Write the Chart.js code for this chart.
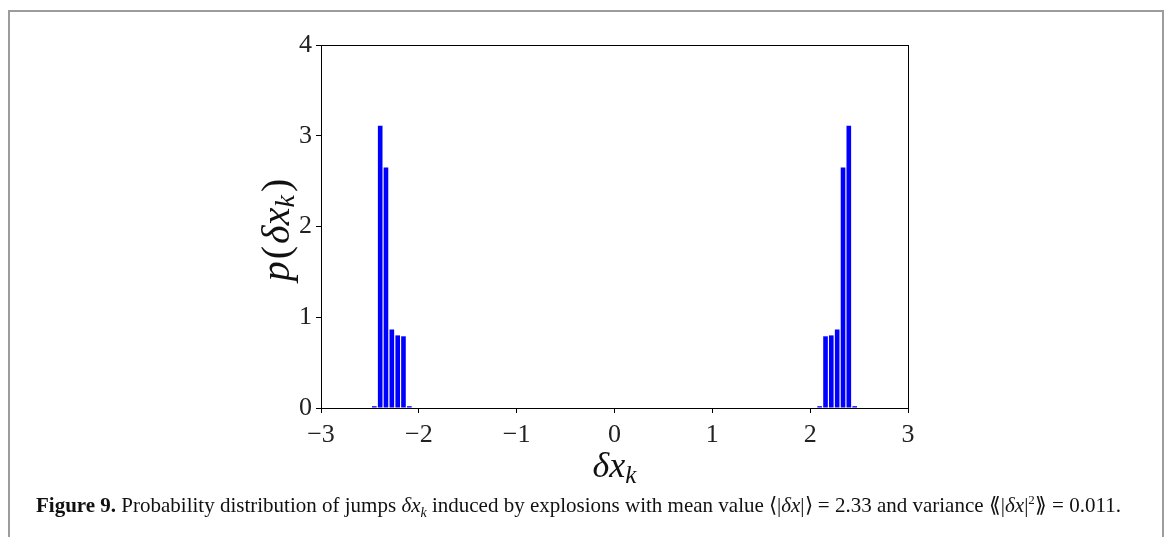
<!DOCTYPE html>
<html>
<head>
<meta charset="utf-8">
<script src="https://cdn.jsdelivr.net/npm/chart.js@4.4.1/dist/chart.umd.min.js"></script>
<style>
  body { margin: 0; background: #fff; width: 1168px; height: 537px; overflow: hidden; position: relative; }
  #frame { position: absolute; left: 8px; top: 10px; width: 1152px; height: 600px; border: 2px solid #9c9c9c; box-sizing: content-box; }
  #chart { position: absolute; left: 0; top: 0; }
  #caption { position: absolute; left: 36px; top: 492px; font-family: "Liberation Serif", serif; font-size: 21px; color: #111; white-space: nowrap; }
  #caption b { font-weight: bold; }
  #caption i { font-style: italic; }
</style>
</head>
<body>
<div id="frame"></div>
<canvas id="chart" width="1168" height="537"></canvas>
<div id="caption"><b>Figure 9.</b> Probability distribution of jumps <i>δx</i><sub style="font-size:14px"><i>k</i></sub> induced by explosions with mean value ⟨|<i>δx</i>|⟩ = 2.33 and variance ⟪|<i>δx</i>|<sup style="font-size:13px">2</sup>⟫ = 0.011.</div>
<script>
// bin centres and heights of the histogram
const binsLeft = [-2.455, -2.395, -2.336, -2.276, -2.216, -2.157, -2.097];
const valuesLeft = [0.02, 3.11, 2.65, 0.865, 0.80, 0.79, 0.02];
const binsRight = [2.097, 2.157, 2.216, 2.276, 2.336, 2.395, 2.455];
const valuesRight = [0.02, 0.79, 0.80, 0.865, 2.65, 3.11, 0.02];
const xTicks = [-3, -2, -1, 0, 1, 2, 3];
const yTicks = [0, 1, 2, 3, 4];

const points = binsLeft.map((x, i) => ({ x: x, y: valuesLeft[i] }))
  .concat(binsRight.map((x, i) => ({ x: x, y: valuesRight[i] })));

const tickFont = { family: "Liberation Serif", size: 26 };

function drawParts(ctx, parts, cx, cy, size) {
  // measure
  let total = 0;
  parts.forEach(p => {
    ctx.font = (p.it ? "italic " : "") + (p.sub ? size * 0.7 : size) + "px 'Liberation Serif'";
    p.w = ctx.measureText(p.t).width + (p.gap || 0);
    total += p.w;
  });
  let x = cx - total / 2;
  parts.forEach(p => {
    ctx.font = (p.it ? "italic " : "") + (p.sub ? size * 0.7 : size) + "px 'Liberation Serif'";
    ctx.fillText(p.t, x, cy + (p.sub ? size * 0.22 : 0));
    x += p.w;
  });
}

const framePlugin = {
  id: "frame",
  afterDraw(chart) {
    const { ctx, chartArea: a } = chart;
    ctx.save();
    ctx.strokeStyle = "#000";
    ctx.lineWidth = 1;
    ctx.strokeRect(a.left + 0.5, a.top + 0.5, a.right - a.left, a.bottom - a.top);
    ctx.fillStyle = "#111";
    ctx.textBaseline = "middle";
    ctx.textAlign = "left";
    drawParts(ctx, [{ t: "δx", it: true }, { t: "k", it: true, sub: true }], (a.left + a.right) / 2, 468, 36);
    ctx.translate(278, 230);
    ctx.rotate(-Math.PI / 2);
    drawParts(ctx, [{ t: "p", it: true, gap: 2 }, { t: "(", gap: 2 }, { t: "δx", it: true }, { t: "k", it: true, sub: true, gap: 3 }, { t: ")" }], 0, 0, 40);
    ctx.restore();
  }
};

new Chart(document.getElementById("chart"), {
  type: "bar",
  data: {
    datasets: [{
      data: points,
      backgroundColor: "#0000ff",
      borderWidth: 0,
      barPercentage: 1.0,
      categoryPercentage: 0.8
    }]
  },
  options: {
    responsive: false,
    animation: false,
    layout: { padding: { left: 261, right: 260, top: 45, bottom: 89 } },
    plugins: { legend: { display: false }, tooltip: { enabled: false } },
    scales: {
      x: {
        type: "linear",
        min: -3,
        max: 3,
        offset: false,
        afterFit: s => { s.height = 40; },
        afterBuildTicks: s => { s.ticks = xTicks.map(v => ({ value: v })); },
        grid: { drawOnChartArea: false, drawTicks: true, tickLength: 5, color: "#000", offset: false },
        border: { color: "#000", width: 1 },
        ticks: {
          font: tickFont, color: "#222", padding: 7, maxRotation: 0,
          callback: v => String(v).replace("-", "\u2212")
        }
      },
      y: {
        min: 0,
        max: 4,
        afterFit: s => { s.width = 60; },
        afterBuildTicks: s => { s.ticks = yTicks.map(v => ({ value: v })); },
        grid: { drawOnChartArea: false, drawTicks: true, tickLength: 5, color: "#000" },
        border: { color: "#000", width: 1 },
        ticks: { font: tickFont, color: "#222", padding: 4 }
      }
    }
  },
  plugins: [framePlugin]
});
</script>
</body>
</html>
